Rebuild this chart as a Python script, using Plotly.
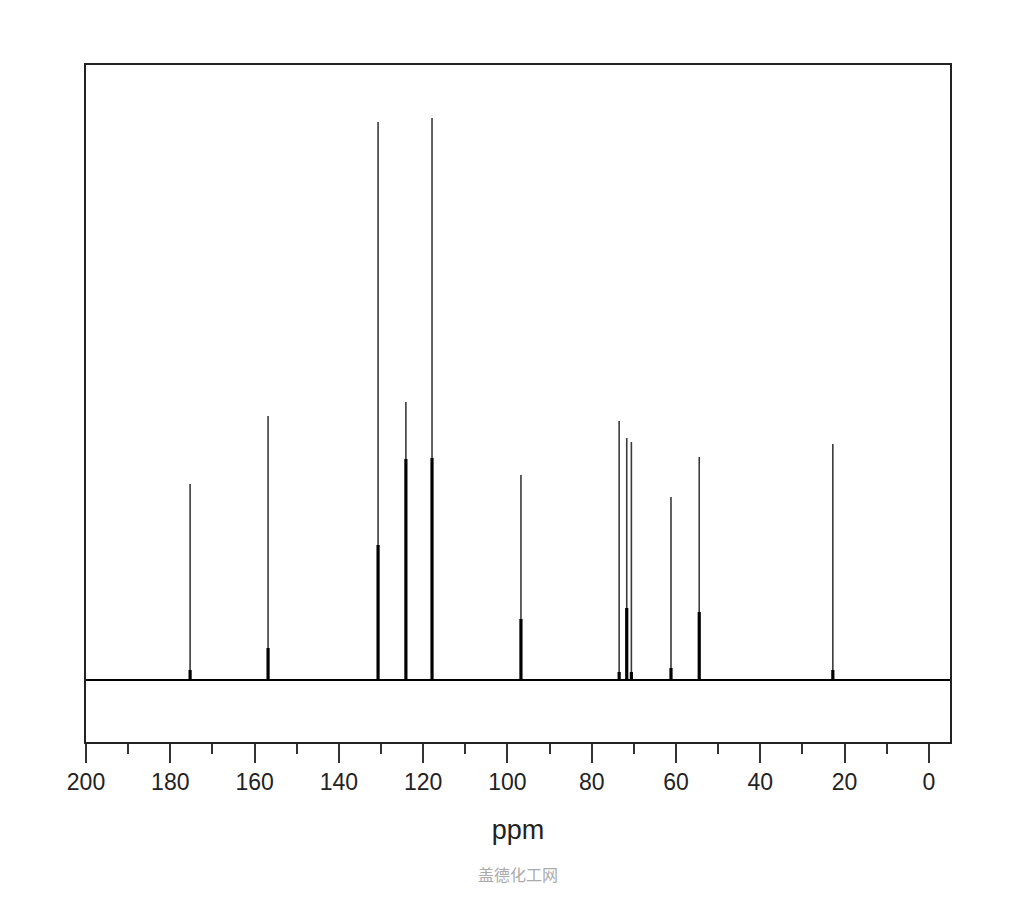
import plotly.graph_objects as go

# Peak positions (ppm) and heights (arbitrary units, baseline = 0)
peak_ppm = [175.3, 156.8, 130.7, 124.1, 117.9, 96.8, 73.5, 71.7, 70.6, 61.2, 54.5, 22.8]
peak_height = [196, 264, 558, 278, 562, 205, 259, 242, 238, 183, 223, 236]
# shorter companion line of each multiplet (drawn heavier near the base)
sub_height = [10, 32, 135, 221, 222, 61, 8, 72, 8, 12, 68, 10]

tick_vals = [200, 180, 160, 140, 120, 100, 80, 60, 40, 20, 0]
tick_text = [str(v) for v in tick_vals]

def sticks(xs, hs):
    X, Y = [], []
    for x, h in zip(xs, hs):
        X += [x, x, None]
        Y += [0, h, None]
    return X, Y

fig = go.Figure()

# baseline
fig.add_trace(go.Scatter(x=[200, -5], y=[0, 0], mode="lines",
                         line=dict(color="black", width=2), hoverinfo="skip"))

tx, ty = sticks(peak_ppm, peak_height)
fig.add_trace(go.Scatter(x=tx, y=ty, mode="lines",
                         line=dict(color="#3a3a3a", width=1.6), hoverinfo="skip"))

sx, sy = sticks(peak_ppm, sub_height)
fig.add_trace(go.Scatter(x=sx, y=sy, mode="lines",
                         line=dict(color="black", width=3.2), hoverinfo="skip"))

fig.update_layout(
    width=1010, height=884,
    margin=dict(l=78, r=68, t=57, b=150),
    paper_bgcolor="white", plot_bgcolor="white",
    showlegend=False,
    font=dict(family="Liberation Sans, Arial, sans-serif", color="#222"),
    xaxis=dict(
        range=[200, -5], showgrid=False, zeroline=False,
        showline=True, linecolor="#222", linewidth=1.5, mirror=True,
        ticks="outside", ticklen=19, tickwidth=1.5, tickcolor="#333",
        tickvals=tick_vals, ticktext=tick_text,
        tickfont=dict(size=23, color="#222"),
        minor=dict(dtick=10, tick0=0, ticks="outside", ticklen=10, tickwidth=1.5, tickcolor="#333"),
        title=dict(text="ppm", font=dict(size=27, color="#222"), standoff=26),
    ),
    yaxis=dict(
        range=[-62, 615], showgrid=False, zeroline=False,
        showline=True, linecolor="#222", linewidth=1.5, mirror=True,
        showticklabels=False, ticks="",
    ),
)

fig.add_annotation(text="盖德化工网", xref="paper", yref="paper",
                   x=0.5, y=0, xanchor="center", yanchor="middle",
                   yshift=-132, showarrow=False,
                   font=dict(family="Noto Sans CJK SC", size=16, color="#aaaaaa"))

fig.write_html("out.html")
